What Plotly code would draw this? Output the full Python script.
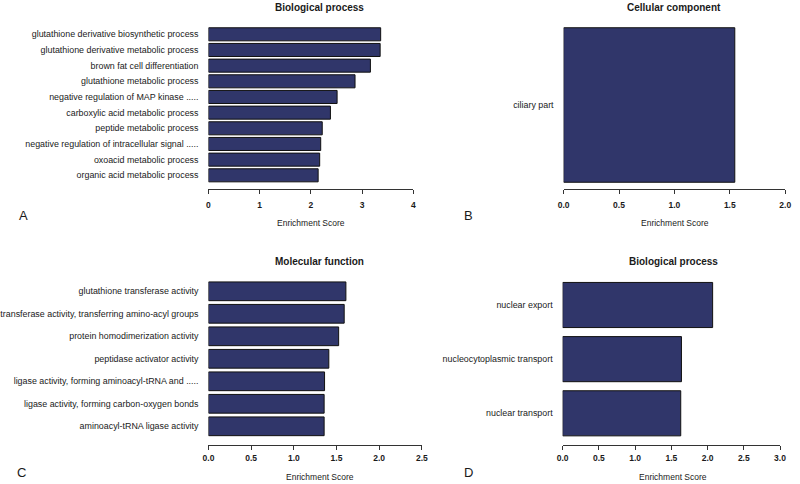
import plotly.graph_objects as go

W, H = 800, 484

# ---------------- data ----------------
bp_terms = [
    "glutathione derivative biosynthetic process",
    "glutathione derivative metabolic process",
    "brown fat cell differentiation",
    "glutathione metabolic process",
    "negative regulation of MAP kinase .....",
    "carboxylic acid metabolic process",
    "peptide metabolic process",
    "negative regulation of intracellular signal .....",
    "oxoacid metabolic process",
    "organic acid metabolic process",
]
bp_scores = [3.36, 3.35, 3.16, 2.86, 2.51, 2.38, 2.22, 2.19, 2.17, 2.14]

cc_terms = ["ciliary part"]
cc_scores = [1.545]

mf_terms = [
    "glutathione transferase activity",
    "transferase activity, transferring amino-acyl groups",
    "protein homodimerization activity",
    "peptidase activator activity",
    "ligase activity, forming aminoacyl-tRNA and .....",
    "ligase activity, forming carbon-oxygen bonds",
    "aminoacyl-tRNA ligase activity",
]
mf_scores = [1.61, 1.59, 1.525, 1.41, 1.36, 1.355, 1.355]

bp2_terms = ["nuclear export", "nucleocytoplasmic transport", "nuclear transport"]
bp2_scores = [2.07, 1.64, 1.63]

panel_titles = ["Biological process", "Cellular component", "Molecular function", "Biological process"]
panel_letters = ["A", "B", "C", "D"]
x_label = "Enrichment Score"
x_ranges = [[0, 4], [0, 2], [0, 2.5], [0, 3]]
x_dticks = [1, 0.5, 0.5, 0.5]
x_formats = ["d", ".1f", ".1f", ".1f"]

# ---------------- layout geometry (pixels) ----------------
BAR_COLOR = "#30366a"
TXT = "#1a1a1a"
FONT = "Liberation Sans, Arial, sans-serif"


def ygeom(n, top_c, bot_c, axis_px, top_px, pitch=None):
    if pitch is None:
        pitch = (bot_c - top_c) / (n - 1)
    lo = -(axis_px - bot_c) / pitch
    hi = (n - 1) + (top_c - top_px) / pitch
    return [lo, hi], [1 - axis_px / H, 1 - top_px / H]


panels = [
    dict(terms=bp_terms, scores=bp_scores, xpx=(201, 410.7),
         yg=ygeom(10, 34.3, 175.3, 189.3, 22)),
    dict(terms=cc_terms, scores=cc_scores, xpx=(564.3, 791),
         yg=ygeom(1, 105, 105, 189.3, 22, pitch=185.5)),
    dict(terms=mf_terms, scores=mf_scores, xpx=(201, 419.3),
         yg=ygeom(7, 291.3, 426.3, 445.3, 276)),
    dict(terms=bp2_terms, scores=bp2_scores, xpx=(563.3, 785.7),
         yg=ygeom(3, 305, 413.3, 445.3, 276)),
]

fig = go.Figure()
layout = dict(
    width=W, height=H, margin=dict(l=0, r=0, t=0, b=0),
    paper_bgcolor="white", plot_bgcolor="white",
    showlegend=False, bargap=0.167,
    font=dict(family=FONT, color=TXT),
)

for i, p in enumerate(panels):
    k = "" if i == 0 else str(i + 1)
    fig.add_trace(go.Bar(
        x=p["scores"], y=p["terms"], orientation="h",
        marker=dict(color=BAR_COLOR, line=dict(color="#111111", width=1)),
        xaxis="x" + k, yaxis="y" + k, hoverinfo="x+y",
    ))
    yr, yd = p["yg"]
    layout["xaxis" + k] = dict(
        domain=[p["xpx"][0] / W, p["xpx"][1] / W], range=x_ranges[i],
        anchor="y" + k, dtick=x_dticks[i], tick0=0, tickformat=x_formats[i],
        showline=True, linecolor="#333333", linewidth=1,
        ticks="outside", ticklen=4, tickwidth=1, tickcolor="#333333",
        showgrid=False, zeroline=False,
        tickfont=dict(size=8.5, color=TXT, family=FONT, weight="bold"),
        ticklabelstandoff=3 if i < 2 else 0,
        fixedrange=True,
    )
    layout["yaxis" + k] = dict(
        domain=yd, range=yr, anchor="x" + k,
        categoryorder="array", categoryarray=list(reversed(p["terms"])),
        showline=False, ticks="", showgrid=False, zeroline=False,
        tickfont=dict(size=8.9, color=TXT, family=FONT),
        ticklabelstandoff=9, fixedrange=True,
    )

ann = []
title_pos = [(315, 7.5), (677.5, 7.5), (315, 261.7), (676.7, 261.7)]
es_pos = [(306, 223.3), (678.3, 223.3), (315, 477), (676.7, 477)]
letter_pos = [(11.7, 215), (466.7, 215), (10, 472), (466.7, 472)]
for i in range(4):
    tx, ty = title_pos[i]
    ann.append(dict(text="<b>%s</b>" % panel_titles[i], x=tx / W, y=1 - ty / H,
                    xref="paper", yref="paper", xanchor="center", yanchor="middle",
                    showarrow=False, font=dict(size=10, color=TXT, family=FONT)))
    ex, ey = es_pos[i]
    ann.append(dict(text=x_label, x=ex / W, y=1 - ey / H,
                    xref="paper", yref="paper", xanchor="center", yanchor="middle",
                    showarrow=False, font=dict(size=8.5, color=TXT, family=FONT)))
    lx, ly = letter_pos[i]
    ann.append(dict(text=panel_letters[i], x=lx / W, y=1 - ly / H,
                    xref="paper", yref="paper", xanchor="center", yanchor="middle",
                    showarrow=False, font=dict(size=13, color=TXT, family=FONT)))
layout["annotations"] = ann

fig.update_layout(**layout)
fig.write_html(
    "out.html",
    config={"displayModeBar": False},
    post_script="document.body.style.margin='0px';document.body.style.overflow='hidden';",
)
